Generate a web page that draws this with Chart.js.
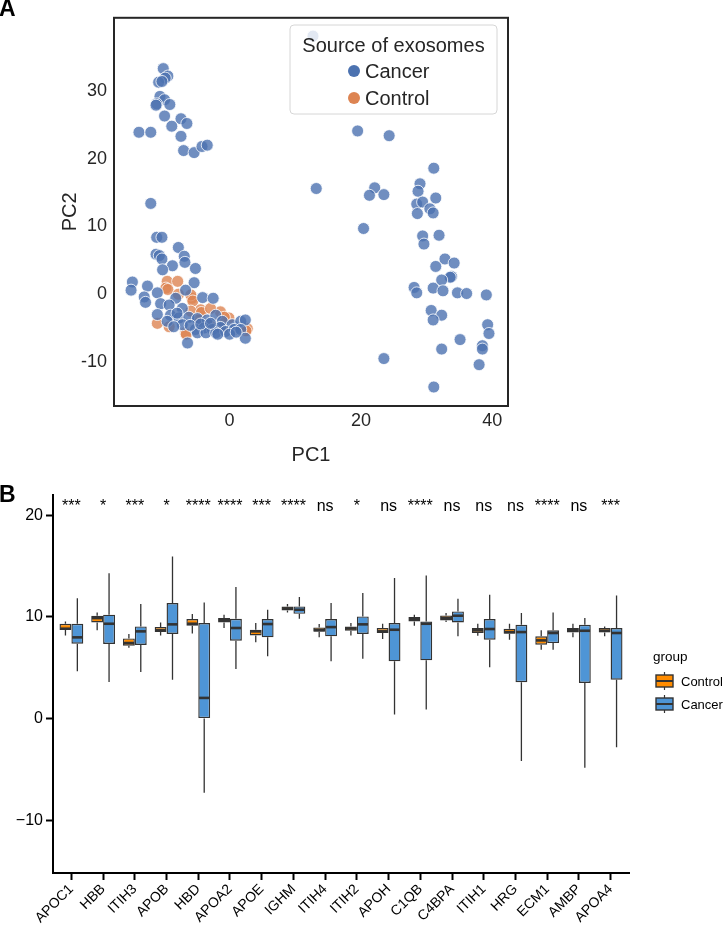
<!DOCTYPE html>
<html>
<head>
<meta charset="utf-8">
<script src="https://cdn.jsdelivr.net/npm/chart.js@4.4.1/dist/chart.umd.min.js"></script>
<style>
html, body { margin: 0; padding: 0; background: #fff; }
#wrap { position: relative; width: 724px; height: 927px; }
#pca { position: absolute; left: 0; top: 0; }
#box { position: absolute; left: 0; top: 470px; }
</style>
</head>
<body>
<div id="wrap">
  <canvas id="pca" width="724" height="470"></canvas>
  <canvas id="box" width="724" height="457"></canvas>
</div>
<script>
// ---------- panel A : PCA scores ----------
var cancerX = [
  -10.1, -9.4, -9.8, -10.8, -10.3, -10.6, -9.9, -11.1, -11.2, -9.1, -9.9, -7.4, -6.5, -8.8, -13.8, -12.0, -7.4, -7.0, -5.4, -4.2, -3.4,
  12.7, 13.2, 19.5, 24.3, 22.1, 21.3, 23.5, 20.4, 23.5,
  31.1, 29.0, 28.7, 31.4, 28.5, 29.4, 30.5, 31.0, 28.6, 29.4, 29.6, 31.9, 32.8, 34.2, 31.4, 33.8, 33.6, 32.3, 28.1, 28.5,
  31.0, 32.5, 34.7, 36.1, 39.1, 30.7, 32.3, 31.0, 39.3, 39.5, 35.1, 32.3, 38.5, 38.5, 38.0, 31.1,
  -12.0, -11.1, -10.3, -11.2, -10.7, -10.3, -7.8, -6.9, -6.8, -8.7, -10.2, -5.2, -5.4,
  -14.8, -15.0, -12.5, -11.0, -13.0, -12.8, -6.7, -8.2, -4.1, -2.5, -10.5, -9.2, -7.2, -11.0, -9.0, -7.7, -6.2, -4.9,
  -3.4, -2.1, -1.1, 0.4, 1.7, 2.4, -9.5, -7.2, -5.2, -3.9, -2.6, -1.4, -4.9, -3.6, -2.1, -0.6, 0.7, 1.7, 2.4, -6.4,
  -8.5, -8.0, -6.0, -4.4, -2.9, -1.8, 0.0, 1.0
]
var cancerY = [
  33.3, 32.2, 31.9, 31.3, 31.4, 29.2, 28.7, 28.1, 27.9, 28.0, 26.3, 25.9, 25.2, 24.8, 23.9, 23.9, 23.3, 21.2, 20.9, 21.8, 22.0,
  38.1, 15.6, 24.1, 23.4, 15.7, 14.6, 14.7, 9.7, -9.5,
  18.6, 16.3, 15.2, 14.2, 13.3, 13.6, 12.6, 12.0, 11.9, 8.6, 7.4, 8.7, 5.2, 4.6, 4.1, 2.6, 2.5, 2.1, 1.0, 0.2,
  0.9, 0.5, 0.2, 0.1, -0.1, -2.4, -3.1, -3.8, -4.5, -5.8, -6.7, -8.1, -7.6, -8.1, -10.4, -13.7,
  13.4, 8.4, 8.4, 5.9, 5.7, 5.2, 6.9, 5.6, 4.7, 4.2, 3.6, 3.8, 1.7,
  1.8, 0.6, 1.2, 0.2, -0.4, -1.2, 0.6, -0.6, -0.5, -0.6, -1.4, -1.6, -2.1, -3.0, -3.1, -3.5, -3.4, -3.6,
  -3.8, -3.1, -4.0, -4.5, -4.0, -3.8, -4.0, -4.5, -5.2, -5.0, -5.2, -4.9, -5.7, -5.7, -5.7, -5.5, -5.2, -5.2, -6.5, -7.2,
  -4.8, -2.8, -4.6, -4.4, -4.3, -5.9, -5.9, -5.6
]
var controlX = [-9.5, -7.9, -9.7, -9.4, -7.8, -5.7, -5.9, -5.6, -4.4, -5.9, -4.3, -1.4, -11.0, -9.2, -6.7, -6.6, -0.1, -0.8, 2.7, 2.5, -2.9, -4.7, -3.0, -1.0]
var controlY = [1.9, 1.9, 0.9, 0.7, 0.0, -0.6, -0.1, -1.0, -2.3, -2.5, -2.7, -2.6, -4.3, -4.8, -5.7, -5.9, -3.5, -3.4, -5.1, -5.4, -2.1, -3.8, -4.6, -5.0]
var pcXTicks = [0, 20, 40]
var pcYTicks = [-10, 0, 10, 20, 30]

// ---------- panel B : protein expression ----------
var genes = ['APOC1', 'HBB', 'ITIH3', 'APOB', 'HBD', 'APOA2', 'APOE', 'IGHM', 'ITIH4', 'ITIH2', 'APOH', 'C1QB', 'C4BPA', 'ITIH1', 'HRG', 'ECM1', 'AMBP', 'APOA4']
var signif = ['***', '*', '***', '*', '****', '****', '***', '****', 'ns', '*', 'ns', '****', 'ns', 'ns', 'ns', '****', 'ns', '***']
var ctrlLo  = [8.18, 8.68, 6.97, 8.18, 8.38, 8.91, 7.50, 10.44, 8.00, 8.18, 7.83, 9.14, 9.49, 8.15, 7.76, 6.78, 7.99, 8.09]
var ctrlQ1  = [8.71, 9.46, 7.17, 8.52, 9.14, 9.46, 8.18, 10.64, 8.55, 8.65, 8.42, 9.56, 9.66, 8.42, 8.35, 7.27, 8.48, 8.48]
var ctrlMed = [8.84, 9.89, 7.43, 8.68, 9.33, 9.72, 8.58, 10.84, 8.71, 8.87, 8.58, 9.79, 9.89, 8.68, 8.51, 7.69, 8.71, 8.64]
var ctrlQ3  = [9.33, 10.12, 7.89, 9.00, 9.79, 9.89, 8.74, 11.03, 8.97, 9.07, 8.91, 9.99, 10.15, 8.91, 8.84, 8.09, 8.91, 8.91]
var ctrlHi  = [9.56, 10.44, 8.32, 9.46, 10.28, 10.22, 9.40, 11.27, 9.30, 9.40, 9.33, 10.22, 10.38, 9.33, 9.33, 8.68, 9.33, 9.07]
var cancLo  = [4.65, 3.60, 4.59, 3.83, -7.30, 4.88, 6.12, 9.82, 5.63, 5.89, 0.39, 0.88, 8.09, 5.04, -4.19, 6.78, -4.85, -2.82]
var cancQ1  = [7.37, 7.34, 7.24, 8.32, 0.00, 7.66, 7.99, 10.31, 8.09, 8.32, 5.63, 5.73, 9.46, 7.76, 3.57, 7.43, 3.50, 3.83]
var cancMed = [7.99, 9.33, 8.58, 9.27, 2.03, 8.91, 9.30, 10.71, 9.00, 9.27, 8.74, 9.33, 10.12, 8.81, 8.51, 8.42, 8.64, 8.42]
var cancQ3  = [9.33, 10.22, 9.07, 11.36, 9.40, 9.82, 9.79, 11.03, 9.79, 10.05, 9.40, 9.56, 10.54, 9.79, 9.23, 8.68, 9.23, 8.91]
var cancHi  = [11.85, 14.31, 11.27, 15.94, 11.43, 12.94, 10.71, 11.95, 11.36, 12.35, 13.82, 14.08, 11.79, 12.18, 10.38, 10.44, 9.89, 12.12]
var boxYTicks = [-10, 0, 10, 20]

Chart.defaults.font.family = '"Liberation Sans", Arial, sans-serif'
const FONT = '"Liberation Sans", Arial, sans-serif'

// seaborn deep palette
const blue = '#4C72B0', orange = '#DD8452'

const pts = (xs, ys) => xs.map((x, i) => ({ x: x, y: ys[i] }))

const pcaExtras = {
  id: 'pcaExtras',
  afterDraw(chart) {
    const { ctx, chartArea: a } = chart
    ctx.save()
    // axes frame
    ctx.strokeStyle = '#262626'
    ctx.lineWidth = 2
    ctx.strokeRect(a.left, a.top, a.right - a.left, a.bottom - a.top)
    // legend box
    const lx = 290, ly = 25, lw = 207, lh = 89
    ctx.beginPath()
    ctx.roundRect(lx, ly, lw, lh, 4)
    ctx.fillStyle = 'rgba(255,255,255,0.8)'
    ctx.fill()
    ctx.strokeStyle = '#d6d6d6'
    ctx.lineWidth = 1
    ctx.stroke()
    ctx.fillStyle = '#262626'
    ctx.font = '20px ' + FONT
    ctx.textAlign = 'center'
    ctx.textBaseline = 'middle'
    ctx.fillText('Source of exosomes', lx + lw / 2, 46)
    ctx.textAlign = 'left'
    chart.data.datasets.forEach((ds, d) => {
      const yy = 71 + d * 27
      ctx.beginPath()
      ctx.arc(354, yy, 6, 0, Math.PI * 2)
      ctx.fillStyle = ds.legendColor
      ctx.fill()
      ctx.fillStyle = '#262626'
      ctx.fillText(ds.label, 365, yy + 1)
    })
    // panel letter
    ctx.font = 'bold 23px ' + FONT
    ctx.fillStyle = '#000'
    ctx.textBaseline = 'alphabetic'
    ctx.fillText('A', -1, 16)
    ctx.restore()
  }
}

new Chart(document.getElementById('pca'), {
  type: 'scatter',
  data: {
    datasets: [
      { label: 'Cancer', data: pts(cancerX, cancerY), legendColor: blue,
        backgroundColor: 'rgba(76,114,176,0.8)', borderColor: '#ffffff', borderWidth: 0.8,
        pointRadius: 6, pointHoverRadius: 6 },
      { label: 'Control', data: pts(controlX, controlY), legendColor: orange,
        backgroundColor: 'rgba(221,132,82,0.8)', borderColor: '#ffffff', borderWidth: 0.8,
        pointRadius: 6, pointHoverRadius: 6 }
    ]
  },
  options: {
    responsive: false,
    animation: false,
    events: [],
    layout: { padding: { left: 0, top: 14, right: 216, bottom: 0 } },
    plugins: { legend: { display: false }, tooltip: { enabled: false } },
    scales: {
      x: {
        type: 'linear', min: -17.6, max: 42.4,
        grid: { display: false, drawTicks: false },
        border: { display: false },
        afterBuildTicks: s => { s.ticks = pcXTicks.map(v => ({ value: v })) },
        afterFit: s => { s.height = 64 },
        ticks: { font: { size: 18 }, color: '#262626', padding: 4, maxRotation: 0 },
        title: { display: true, text: 'PC1', font: { size: 20 }, color: '#262626', padding: { top: 0, bottom: 3 } }
      },
      y: {
        type: 'linear', min: -16.5, max: 40.8,
        grid: { display: false, drawTicks: false },
        border: { display: false },
        afterBuildTicks: s => { s.ticks = pcYTicks.map(v => ({ value: v })) },
        afterFit: s => { s.width = 114 },
        ticks: { font: { size: 18 }, color: '#262626', padding: 7 },
        title: { display: true, text: 'PC2', font: { size: 20 }, color: '#262626', padding: { top: 58, bottom: 0 } }
      }
    }
  },
  plugins: [pcaExtras]
})

// ---------- boxplots ----------
const boxStats = [
  { lo: ctrlLo, med: ctrlMed, hi: ctrlHi, q1: ctrlQ1, q3: ctrlQ3 },
  { lo: cancLo, med: cancMed, hi: cancHi, q1: cancQ1, q3: cancQ3 }
]
const boxData = (q1, q3) => q1.map((v, i) => ({ x: i, y: [v, q3[i]] }))
const lineCol = '#333333'

const boxExtras = {
  id: 'boxExtras',
  afterDatasetsDraw(chart) {
    const { ctx, scales: { x, y } } = chart
    ctx.save()
    ctx.strokeStyle = lineCol
    boxStats.forEach((st, d) => {
      chart.getDatasetMeta(d).data.forEach((bar, i) => {
        const p = bar.getProps(['x', 'width'], true)
        ctx.lineWidth = 1.3
        ctx.beginPath()
        ctx.moveTo(p.x, y.getPixelForValue(st.q3[i]))
        ctx.lineTo(p.x, y.getPixelForValue(st.hi[i]))
        ctx.moveTo(p.x, y.getPixelForValue(st.q1[i]))
        ctx.lineTo(p.x, y.getPixelForValue(st.lo[i]))
        ctx.stroke()
        const my = y.getPixelForValue(st.med[i])
        ctx.lineWidth = 2.6
        ctx.beginPath()
        ctx.moveTo(p.x - p.width / 2 + 0.7, my)
        ctx.lineTo(p.x + p.width / 2 - 0.7, my)
        ctx.stroke()
      })
    })
    // significance labels
    ctx.fillStyle = '#000'
    ctx.font = '16px ' + FONT
    ctx.textAlign = 'center'
    ctx.textBaseline = 'alphabetic'
    signif.forEach((s, i) => ctx.fillText(s, x.getPixelForValue(i), y.getPixelForValue(20.4)))
    ctx.restore()
  },
  afterDraw(chart) {
    const { ctx } = chart
    ctx.save()
    ctx.fillStyle = '#000'
    ctx.textAlign = 'left'
    ctx.textBaseline = 'alphabetic'
    ctx.font = '13.5px ' + FONT
    ctx.fillText('group', 653, 191)
    ctx.font = '13px ' + FONT
    chart.data.datasets.forEach((ds, d) => {
      const ky = 211 + d * 23
      ctx.strokeStyle = lineCol
      ctx.lineWidth = 1.2
      ctx.beginPath()
      ctx.moveTo(664.5, ky - 9)
      ctx.lineTo(664.5, ky + 9)
      ctx.stroke()
      ctx.fillStyle = ds.backgroundColor
      ctx.fillRect(656, ky - 6, 17, 12)
      ctx.lineWidth = 1.4
      ctx.strokeRect(656, ky - 6, 17, 12)
      ctx.lineWidth = 2
      ctx.beginPath()
      ctx.moveTo(656, ky)
      ctx.lineTo(673, ky)
      ctx.stroke()
      ctx.fillStyle = '#000'
      ctx.fillText(ds.label, 681, ky + 5)
    })
    ctx.font = 'bold 23px ' + FONT
    ctx.fillText('B', -1, 31.5)
    ctx.restore()
  }
}

new Chart(document.getElementById('box'), {
  type: 'bar',
  data: {
    datasets: [
      { label: 'Control', data: boxData(ctrlQ1, ctrlQ3), backgroundColor: '#FF8C00' },
      { label: 'Cancer', data: boxData(cancQ1, cancQ3), backgroundColor: '#4E95D6' }
    ]
  },
  options: {
    responsive: false,
    animation: false,
    events: [],
    layout: { padding: { left: 0, top: 25, right: 95, bottom: 0 } },
    datasets: {
      bar: { categoryPercentage: 0.75, barPercentage: 1, borderWidth: 1.4, borderColor: lineCol, borderSkipped: false }
    },
    plugins: { legend: { display: false }, tooltip: { enabled: false } },
    scales: {
      x: {
        type: 'linear', min: -0.58, max: 17.58, offset: false,
        afterBuildTicks: s => { s.ticks = genes.map((g, i) => ({ value: i })) },
        afterFit: s => { s.height = 54 },
        ticks: { callback: v => genes[v], autoSkip: false, minRotation: 45, maxRotation: 45, font: { size: 14 }, color: '#000', padding: 1 },
        grid: { display: true, offset: false, drawOnChartArea: false, drawTicks: true, tickLength: 7, tickColor: '#000', tickWidth: 2 },
        border: { display: true, color: '#000', width: 2 }
      },
      y: {
        type: 'linear', min: -15.2, max: 22.0,
        afterBuildTicks: s => { s.ticks = boxYTicks.map(v => ({ value: v })) },
        afterFit: s => { s.width = 53 },
        ticks: { font: { size: 16 }, color: '#000', padding: 3, callback: v => v < 0 ? '\u2212' + Math.abs(v) : String(v) },
        grid: { display: true, drawOnChartArea: false, drawTicks: true, tickLength: 7, tickColor: '#000', tickWidth: 2 },
        border: { display: true, color: '#000', width: 2 }
      }
    }
  },
  plugins: [boxExtras]
})
</script>
</body>
</html>
